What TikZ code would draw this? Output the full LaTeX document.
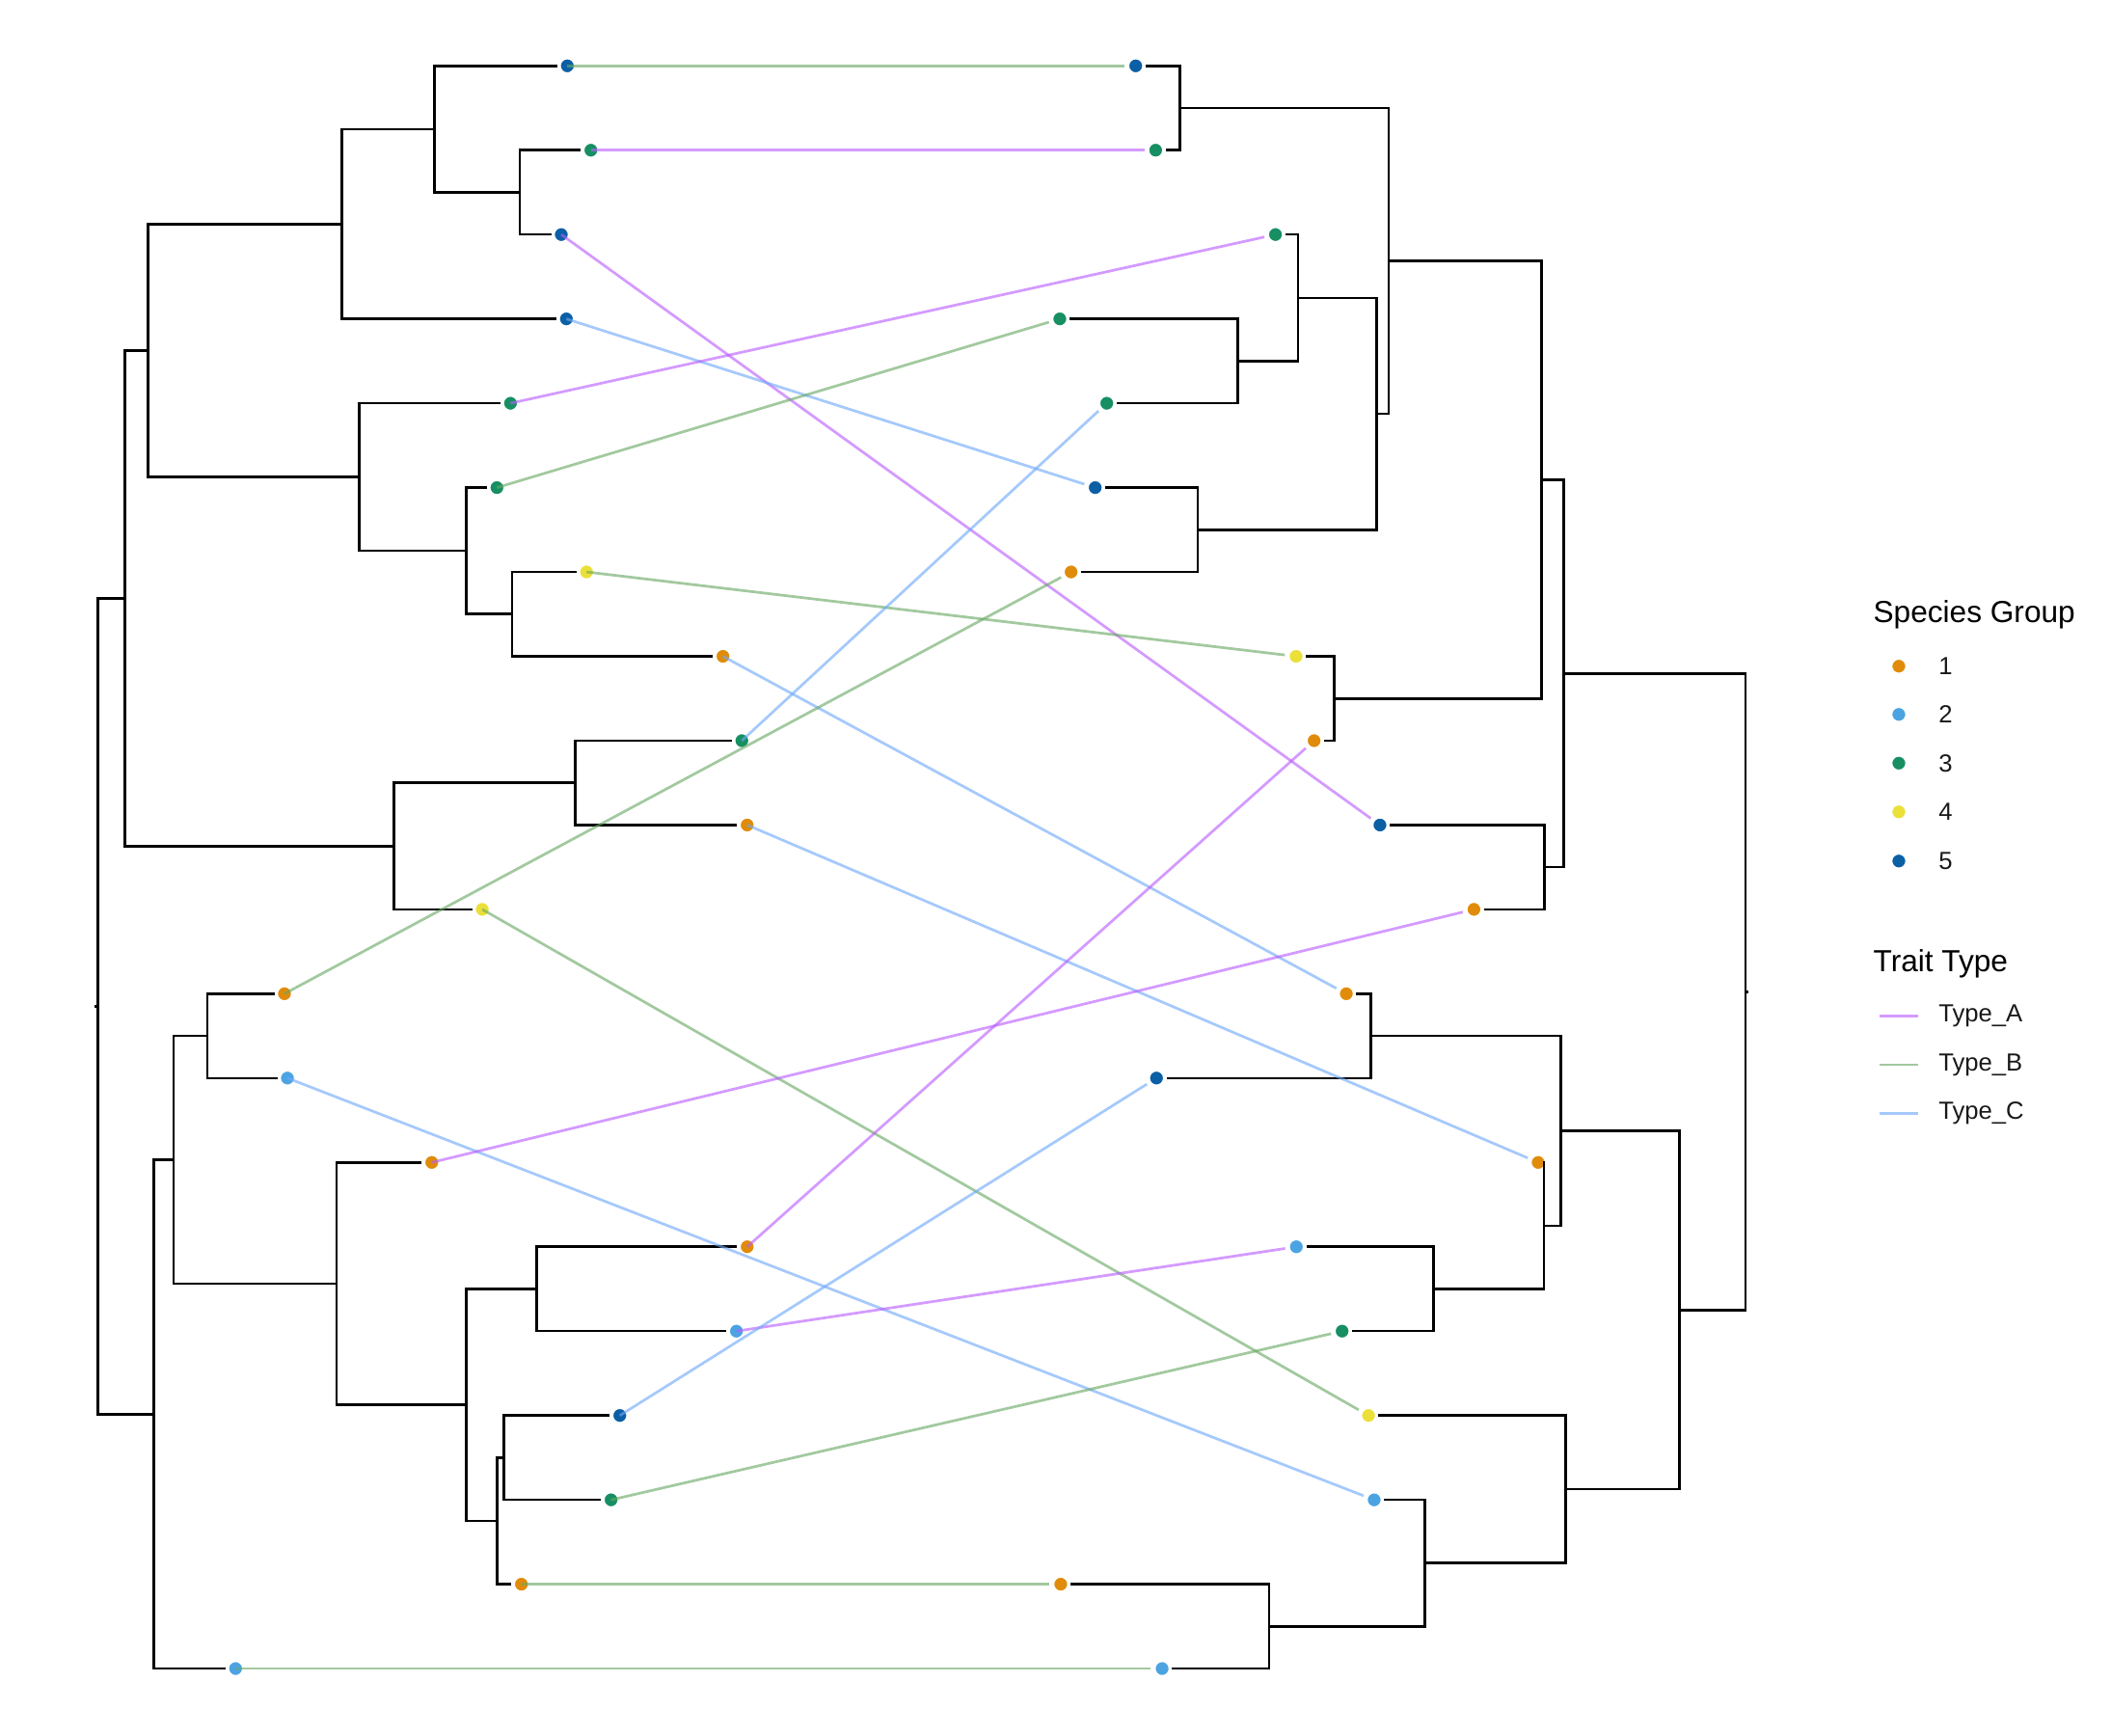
\documentclass[tikz,border=0pt]{standalone}
\usepackage{fontspec}
\setmainfont{Liberation Sans}
\usepackage{xcolor}
\definecolor{grp1}{HTML}{E08C0A}
\definecolor{grp2}{HTML}{4CA3E1}
\definecolor{grp3}{HTML}{178F63}
\definecolor{grp4}{HTML}{EBE03A}
\definecolor{grp5}{HTML}{0B5FA5}
\definecolor{traitA}{HTML}{B95CFF}
\definecolor{traitB}{HTML}{69A864}
\definecolor{traitC}{HTML}{6EA8FA}
\newcommand{\rowy}[1]{48.9+(#1-1)*62.65}

\begin{document}
\begin{tikzpicture}[x=0.0139605cm, y=-0.0139605cm,
  tip/.style={circle, draw=white, line width=0.43pt, inner sep=0pt, minimum size=0.15cm},
  branch/.style={line width=0.72pt, line cap=rect},
  twig/.style={line width=0.72pt, shorten >=0.6pt},
  typeA/.style={traitA, opacity=0.62, line width=0.78pt},
  typeB/.style={traitB, opacity=0.62, line width=0.78pt},
  typeC/.style={traitC, opacity=0.62, line width=0.78pt},
  keytext/.style={anchor=west, inner sep=0pt, text=black!90, font=\fontsize{7.3}{8.8}\selectfont},
  keytitle/.style={anchor=base west, inner sep=0pt, text=black, font=\fontsize{9}{11}\selectfont}]
  \useasboundingbox (0,0) rectangle (1568,1289);

  \foreach \n/\x/\g in {1/421.4/5, 2/438.9/3, 3/416.9/5, 4/420.7/5, 5/379.2/3,
      6/369.1/3, 7/435.7/4, 8/537/1, 9/551/3, 10/555/1, 11/358.2/4, 12/211.3/1,
      13/213.5/2, 14/320.7/1, 15/555/1, 16/547/2, 17/460.4/5, 18/453.9/3,
      19/387.3/1, 20/175/2}
    \node[tip, fill=grp\g] (L\n) at (\x,{\rowy{\n}}) {};
  \foreach \n/\x/\g in {1/843.6/5, 2/858.4/3, 3/947.4/3, 4/787.2/3, 5/822.1/3,
      6/813.5/5, 7/795.6/1, 8/962.7/4, 9/976.1/1, 10/1025/5, 11/1094.8/1,
      12/1000/1, 13/859/5, 14/1142.5/1, 15/962.9/2, 16/996.9/3, 17/1016.5/4,
      18/1020.7/2, 19/787.9/1, 20/863.2/2}
    \node[tip, fill=grp\g] (R\n) at (\x,{\rowy{\n}}) {};

  \coordinate (lA) at (386.1,142.9);
  \coordinate (lB) at (322.8,95.9);
  \coordinate (lC) at (253.8,166.4);
  \coordinate (lD) at (380.4,456.1);
  \coordinate (lE) at (346.2,409.1);
  \coordinate (lF) at (266.7,354.3);
  \coordinate (lG) at (109.8,260.35);
  \coordinate (lH) at (427.4,581.4);
  \coordinate (lI) at (292.5,628.4);
  \coordinate (lJ) at (92.6,444.4);
  \coordinate (lK) at (154,769.4);
  \coordinate (lM) at (398.7,957.3);
  \coordinate (lN) at (374.4,1082.6);
  \coordinate (lO) at (369.4,1129.6);
  \coordinate (lP) at (346.2,1043.45);
  \coordinate (lQ) at (250,953.4);
  \coordinate (lR) at (128.9,861.4);
  \coordinate (lS) at (114.1,1050.3);
  \coordinate (lroot) at (72.8,747.35);

  \coordinate (rA) at (876.5,80.2);
  \coordinate (rB) at (919.3,268.2);
  \coordinate (rC) at (964.2,221.2);
  \coordinate (rD) at (889.7,393.5);
  \coordinate (rE) at (1022.5,307.35);
  \coordinate (rF) at (1031.5,193.8);
  \coordinate (rG) at (990.9,518.8);
  \coordinate (rH) at (1145,356.3);
  \coordinate (rI) at (1147.3,644.1);
  \coordinate (rJ) at (1161.6,500.2);
  \coordinate (rK) at (1018.4,769.4);
  \coordinate (rM) at (1064.9,957.3);
  \coordinate (rN) at (1146.8,910.3);
  \coordinate (rO) at (1159.2,839.85);
  \coordinate (rP) at (942.7,1207.9);
  \coordinate (rQ) at (1058.5,1160.9);
  \coordinate (rR) at (1163,1106.1);
  \coordinate (rS) at (1247.6,973);
  \coordinate (rroot) at (1296.6,736.6);

  \foreach \p/\c in {lA/L2, lA/L3, lB/L1, lC/L4, lD/L7, lD/L8, lE/L6, lF/L5,
      lH/L9, lH/L10, lI/L11, lK/L12, lK/L13, lM/L15, lM/L16, lN/L17, lN/L18,
      lO/L19, lQ/L14, lS/L20,
      rA/R1, rA/R2, rB/R4, rB/R5, rC/R3, rD/R6, rD/R7, rG/R8, rG/R9, rI/R10,
      rI/R11, rK/R12, rK/R13, rM/R15, rM/R16, rN/R14, rP/R19, rP/R20, rQ/R18,
      rR/R17}
    \draw[twig] (\p) |- (\c);
  \foreach \p/\c in {lB/lA, lC/lB, lE/lD, lF/lE, lG/lC, lG/lF, lI/lH, lJ/lG,
      lJ/lI, lO/lN, lP/lM, lP/lO, lQ/lP, lR/lK, lR/lQ, lS/lR, lroot/lJ, lroot/lS,
      rC/rB, rE/rC, rE/rD, rF/rA, rF/rE, rH/rF, rH/rG, rJ/rH, rJ/rI, rN/rM,
      rO/rK, rO/rN, rQ/rP, rR/rQ, rS/rO, rS/rR, rroot/rJ, rroot/rS}
    \draw[branch] (\p) |- (\c);
  \draw[branch] (lroot) -- ++(-1.5,0);
  \draw[branch] (rroot) -- ++(1.5,0);

  \foreach \a/\b/\t in {1/1/typeB, 2/2/typeA, 3/10/typeA, 4/6/typeC, 5/3/typeA,
      6/4/typeB, 7/8/typeB, 8/12/typeC, 9/5/typeC, 10/14/typeC, 11/17/typeB,
      12/7/typeB, 13/18/typeC, 14/11/typeA, 15/9/typeA, 16/15/typeA,
      17/13/typeC, 18/16/typeB, 19/19/typeB, 20/20/typeB}
    \draw[\t, shorten >=1pt] (L\a.center) -- (R\b);

  \node[keytitle] (grptitle) at (1391,462.7) {Species Group};
  \foreach \g/\yy in {1/494.8, 2/530.6, 3/566.8, 4/603, 5/639.5} {
    \node[tip, fill=grp\g] (key\g) at (1410.4,\yy) {};
    \node[keytext] (keylab\g) at (1439.5,\yy) {\g};
  }
  \node[keytitle] (traittitle) at (1391,721.8) {Trait Type};
  \foreach \t/\yy in {A/754.6, B/790.8, C/827} {
    \draw[type\t] (1396,\yy) -- (1424.8,\yy);
    \node[keytext] (traitlab\t) at (1439.5,\yy) {Type\_\t};
  }
\end{tikzpicture}
\end{document}
